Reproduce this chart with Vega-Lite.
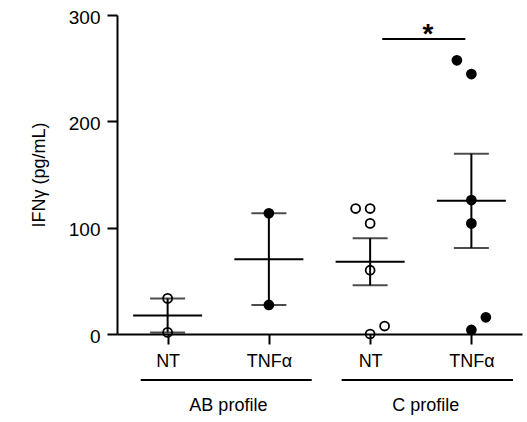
{
  "$schema": "https://vega.github.io/schema/vega-lite/v6.json",
  "autosize": {"type": "none"},
  "padding": {"left": 117, "top": 15, "right": 5, "bottom": 88},
  "width": 405,
  "height": 319,
  "config": {
    "view": {"stroke": null},
    "font": "Liberation Sans",
    "axisY": {"domainColor": "black", "domainWidth": 2, "tickColor": "black", "tickWidth": 2, "tickSize": 10, "labelFontSize": 19, "labelColor": "black", "labelPadding": 7, "labelOffset": 2, "titleFontSize": 18, "titleFontWeight": "normal", "titleColor": "black", "titlePadding": 20, "grid": false, "labelFlush": false},
    "axisX": {"domainColor": "black", "domainWidth": 2, "tickColor": "black", "tickWidth": 2, "tickSize": 10, "labelFontSize": 18, "labelColor": "black", "labelPadding": 8, "grid": false, "labelFlush": false}
  },
  "datasets": {
    "obs": [
      {"profile": "AB", "treat": "NT", "grp": 1, "pos": 1, "v": 33.5},
      {"profile": "AB", "treat": "NT", "grp": 1, "pos": 1, "v": 1.5},
      {"profile": "AB", "treat": "TNFα", "grp": 2, "pos": 2, "v": 113.5},
      {"profile": "AB", "treat": "TNFα", "grp": 2, "pos": 2, "v": 27.3},
      {"profile": "C", "treat": "NT", "grp": 3, "pos": 2.857, "v": 118},
      {"profile": "C", "treat": "NT", "grp": 3, "pos": 3, "v": 118},
      {"profile": "C", "treat": "NT", "grp": 3, "pos": 3, "v": 104},
      {"profile": "C", "treat": "NT", "grp": 3, "pos": 3, "v": 60},
      {"profile": "C", "treat": "NT", "grp": 3, "pos": 3, "v": 0},
      {"profile": "C", "treat": "NT", "grp": 3, "pos": 3.143, "v": 7.5},
      {"profile": "C", "treat": "TNFα", "grp": 4, "pos": 3.857, "v": 257.4},
      {"profile": "C", "treat": "TNFα", "grp": 4, "pos": 4, "v": 244.5},
      {"profile": "C", "treat": "TNFα", "grp": 4, "pos": 4, "v": 126},
      {"profile": "C", "treat": "TNFα", "grp": 4, "pos": 4, "v": 104},
      {"profile": "C", "treat": "TNFα", "grp": 4, "pos": 4, "v": 3.8},
      {"profile": "C", "treat": "TNFα", "grp": 4, "pos": 4.143, "v": 15.7}
    ],
    "sig": [{"from": 3.12, "to": 3.94, "mid": 3.57, "label": "*"}],
    "groups": [
      {"label": "AB profile", "from": 0.734, "to": 2.423, "mid": 1.6},
      {"label": "C profile", "from": 2.719, "to": 4.411, "mid": 3.55}
    ]
  },
  "layer": [
    {
      "data": {"name": "obs"},
      "mark": {"type": "errorbar", "extent": "stderr", "orient": "vertical", "color": "black", "thickness": 2, "ticks": {"size": 35, "thickness": 2, "color": "black"}, "rule": {"strokeWidth": 2, "color": "black"}},
      "encoding": {
        "x": {"field": "grp", "type": "quantitative", "scale": {"domain": [0.5, 4.5], "nice": false, "zero": false}, "title": null, "axis": {"values": [1, 2, 3, 4], "labelExpr": "datum.value % 2 == 1 ? 'NT' : 'TNFα'"}},
        "y": {"field": "v", "type": "quantitative", "scale": {"domain": [0, 300], "nice": false}, "title": "IFNγ (pg/mL)", "axis": {"values": [0, 100, 200, 300]}}
      }
    },
    {
      "data": {"name": "obs"},
      "mark": {"type": "tick", "orient": "horizontal", "size": 69, "thickness": 2, "color": "black", "opacity": 1},
      "encoding": {
        "x": {"field": "grp", "type": "quantitative", "title": null},
        "y": {"aggregate": "mean", "field": "v", "type": "quantitative", "title": "IFNγ (pg/mL)"}
      }
    },
    {
      "data": {"name": "obs"},
      "transform": [{"filter": "datum.treat == 'NT'"}],
      "mark": {"type": "point", "shape": "circle", "filled": false, "stroke": "black", "strokeWidth": 1.8, "size": 80, "opacity": 1},
      "encoding": {
        "x": {"field": "pos", "type": "quantitative", "title": null},
        "y": {"field": "v", "type": "quantitative", "title": "IFNγ (pg/mL)"}
      }
    },
    {
      "data": {"name": "obs"},
      "transform": [{"filter": "datum.treat != 'NT'"}],
      "mark": {"type": "circle", "color": "black", "size": 115, "opacity": 1},
      "encoding": {
        "x": {"field": "pos", "type": "quantitative", "title": null},
        "y": {"field": "v", "type": "quantitative", "title": "IFNγ (pg/mL)"}
      }
    },
    {
      "data": {"name": "sig"},
      "mark": {"type": "rule", "color": "black", "strokeWidth": 2},
      "encoding": {
        "x": {"field": "from", "type": "quantitative", "title": null},
        "x2": {"field": "to"},
        "y": {"datum": 277.4, "type": "quantitative"}
      }
    },
    {
      "data": {"name": "sig"},
      "mark": {"type": "text", "fontSize": 28, "fontWeight": "bold", "color": "black", "baseline": "alphabetic", "align": "center"},
      "encoding": {
        "x": {"field": "mid", "type": "quantitative", "title": null},
        "y": {"datum": 273.5, "type": "quantitative"},
        "text": {"field": "label"}
      }
    },
    {
      "data": {"name": "groups"},
      "mark": {"type": "rule", "color": "black", "strokeWidth": 2},
      "encoding": {
        "x": {"field": "from", "type": "quantitative", "title": null},
        "x2": {"field": "to"},
        "y": {"datum": -43.3, "type": "quantitative"}
      }
    },
    {
      "data": {"name": "groups"},
      "mark": {"type": "text", "fontSize": 18, "color": "black", "baseline": "alphabetic", "align": "center"},
      "encoding": {
        "x": {"field": "mid", "type": "quantitative", "title": null},
        "y": {"datum": -72.4, "type": "quantitative"},
        "text": {"field": "label"}
      }
    }
  ]
}
